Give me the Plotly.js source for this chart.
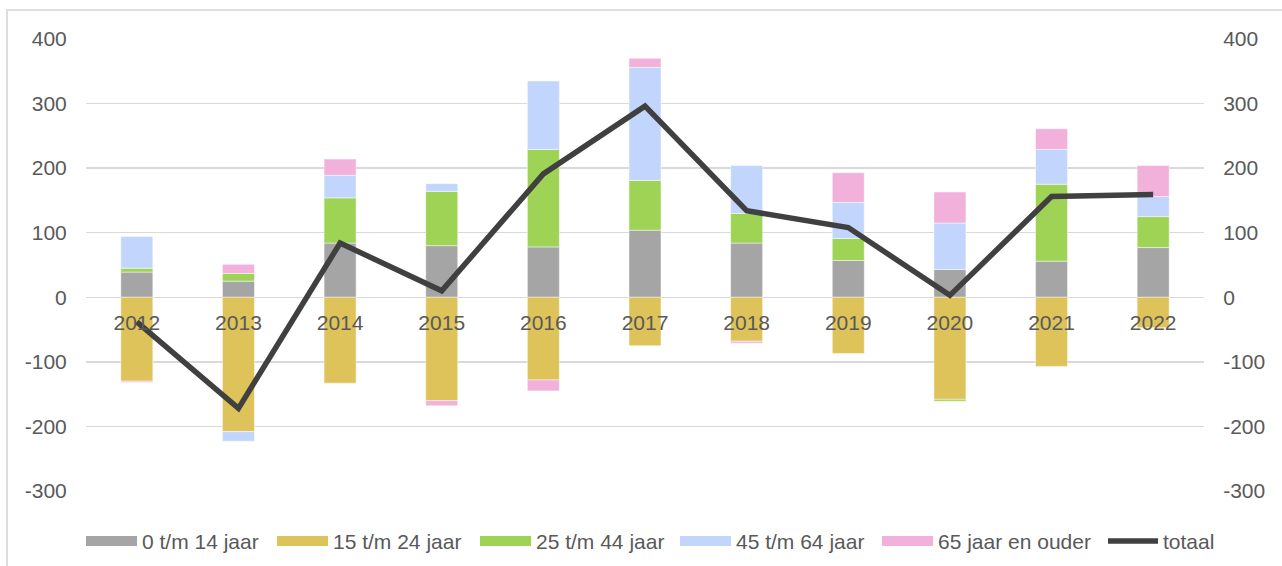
<!DOCTYPE html>
<html>
<head>
<meta charset="utf-8">
<script src="https://cdn.plot.ly/plotly-3.0.1.min.js"></script>
<style>
html,body{margin:0;padding:0;background:#fff;}
#wrap{position:relative;width:1282px;height:566px;overflow:hidden;}
#chart{width:1282px;height:566px;}
#frame{position:absolute;left:6px;top:9px;width:1400px;height:700px;border-left:2px solid #dedede;border-top:2px solid #dedede;pointer-events:none;}
</style>
</head>
<body>
<div id="wrap"><div id="chart"></div><div id="frame"></div></div>
<script>
// ---- data ----
var years = ['2012','2013','2014','2015','2016','2017','2018','2019','2020','2021','2022'];
var seriesNames = ['0 t/m 14 jaar','15 t/m 24 jaar','25 t/m 44 jaar','45 t/m 64 jaar','65 jaar en ouder','totaal'];
var age0_14   = [39, 25, 84, 80, 78, 104, 84, 57, 43, 56, 77];
var age15_24  = [-130, -208, -133, -160, -128, -75, -68, -87, -158, -107, -47];
var age25_44  = [6, 12, 70, 84, 151, 77, 46, 34, -3, 119, 48];
var age45_64  = [49, -15, 35, 12, 106, 175, 74, 56, 72, 54, 31];
var age65plus = [-2, 14, 25, -8, -17, 14, -3, 46, 48, 32, 48];
var totaal    = [-38, -172, 84, 10, 191, 296, 134, 108, 3, 156, 159];
var yTickVals = [-300, -200, -100, 0, 100, 200, 300, 400];

// ---- styles ----
var colors = ['#A5A5A5', '#DDC35A', '#9FD356', '#C2D6FD', '#F1B1DB'];
var lineColor = '#404040';
var textColor = '#595959';
var gridColor = '#d9d9d9';
var FONT = 'Liberation Sans, Arial, sans-serif';

var W = 1282, H = 566;
var M = {l: 86, r: 78, t: 39, b: 75};
function px2x(px){ return (px - M.l) / (W - M.l - M.r); }
function px2y(py){ return (H - M.b - py) / (H - M.t - M.b); }

var barSeries = [age0_14, age15_24, age25_44, age45_64, age65plus];
var traces = barSeries.map(function(vals, i){
  return {
    type: 'bar', x: years, y: vals, name: seriesNames[i],
    marker: {color: colors[i], line: {width: 0.6, color: 'rgba(255,255,255,0.8)'}},
    showlegend: false, hoverinfo: 'x+y+name'
  };
});
traces.push({
  type: 'scatter', mode: 'lines', x: years, y: totaal, name: seriesNames[5],
  yaxis: 'y2', line: {color: lineColor, width: 5.5}, showlegend: false
});

// manual legend
var legendStarts = [86, 277, 480, 680, 882, 1107];
var legY = 541;
var shapes = [], annotations = [];
legendStarts.forEach(function(sx, i){
  if (i < 5) {
    shapes.push({type: 'rect', xref: 'paper', yref: 'paper',
      x0: px2x(sx), x1: px2x(sx + 51), y0: px2y(legY + 5), y1: px2y(legY - 5),
      fillcolor: colors[i], line: {width: 0}});
  } else {
    shapes.push({type: 'line', xref: 'paper', yref: 'paper',
      x0: px2x(sx + 1), x1: px2x(sx + 51), y0: px2y(legY), y1: px2y(legY),
      line: {color: lineColor, width: 5.5}});
  }
  annotations.push({xref: 'paper', yref: 'paper', x: px2x(sx + 54), y: px2y(legY),
    xanchor: 'left', yanchor: 'middle', showarrow: false, text: seriesNames[i],
    font: {family: FONT, size: 21, color: textColor}});
});

var yBase = {
  range: [-300, 400], tickvals: yTickVals, ticktext: yTickVals.map(String),
  tickfont: {family: FONT, size: 21, color: textColor},
  ticks: 'outside', ticklen: 14, tickcolor: 'rgba(0,0,0,0)',
  fixedrange: true
};

var layout = {
  width: W, height: H,
  margin: M,
  paper_bgcolor: '#ffffff', plot_bgcolor: '#ffffff',
  barmode: 'relative', bargap: 0.685,
  showlegend: false,
  font: {family: FONT, size: 21, color: textColor},
  xaxis: {
    type: 'category', anchor: 'free', position: 300/700,
    showline: false, showgrid: false, zeroline: false,
    ticks: 'outside', ticklen: 7, tickcolor: 'rgba(0,0,0,0)',
    tickfont: {family: FONT, size: 21, color: textColor},
    fixedrange: true
  },
  yaxis: Object.assign({}, yBase, {
    side: 'left', showgrid: true, gridcolor: gridColor, gridwidth: 1.3,
    zeroline: true, zerolinecolor: gridColor, zerolinewidth: 1.3, showline: false
  }),
  yaxis2: Object.assign({}, yBase, {
    side: 'right', overlaying: 'y', showgrid: false, zeroline: false, showline: false
  }),
  shapes: shapes,
  annotations: annotations
};

Plotly.newPlot('chart', traces, layout, {displayModeBar: false, staticPlot: true});
</script>
</body>
</html>
